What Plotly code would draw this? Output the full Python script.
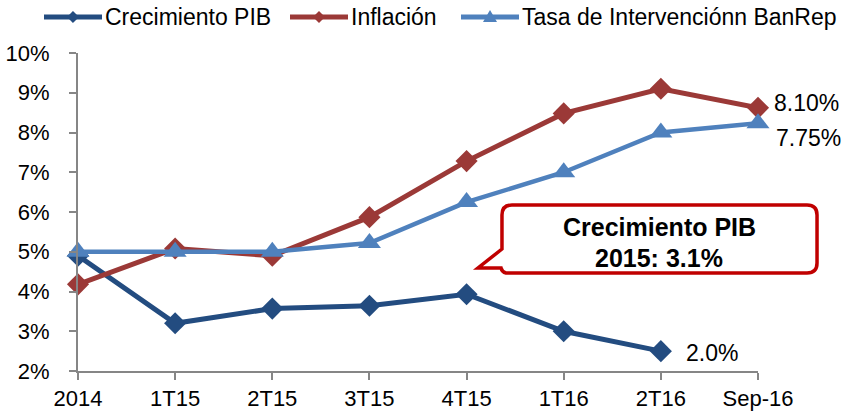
import plotly.graph_objects as go

# periods on the x axis
periodos = ["2014", "1T15", "2T15", "3T15", "4T15", "1T16", "2T16", "Sep-16"]

# series values (%)
crecimiento_pib = [4.9, 3.2, 3.57, 3.64, 3.93, 3.0, 2.5, None]
inflacion = [4.18, 5.08, 4.9, 5.87, 7.28, 8.48, 9.1, 8.62]
tasa_banrep = [5.0, 5.0, 5.0, 5.22, 6.25, 7.0, 8.0, 8.23]

nombres = ["Crecimiento PIB", "Inflación", "Tasa de Intervenciónn BanRep"]

# end-of-series labels and callout text
etiqueta_pib = "2.0%"
etiqueta_inflacion = "8.10%"
etiqueta_tasa = "7.75%"
caja_lineas = ["Crecimiento PIB", "2015: 3.1%"]

azul_osc = "#234C80"
rojo = "#9B3937"
azul_cl = "#4F81BD"
gris = "#868686"
colores = [azul_osc, rojo, azul_cl]
FONT = "Liberation Sans, Arial, sans-serif"

fig = go.Figure()
fig.add_trace(go.Scatter(x=periodos, y=crecimiento_pib, name=nombres[0], mode="lines+markers",
                         line=dict(color=azul_osc, width=5),
                         marker=dict(symbol="diamond", size=17, color=azul_osc),
                         cliponaxis=False))
fig.add_trace(go.Scatter(x=periodos, y=inflacion, name=nombres[1], mode="lines+markers",
                         line=dict(color=rojo, width=5),
                         marker=dict(symbol="diamond", size=17, color=rojo),
                         cliponaxis=False))
fig.add_trace(go.Scatter(x=periodos, y=tasa_banrep, name=nombres[2], mode="lines+markers",
                         line=dict(color=azul_cl, width=4.5),
                         marker=dict(symbol="triangle-up", size=20, color=azul_cl),
                         cliponaxis=False))

# plot area in pixels, used to place the callout and the legend
W, H = 846, 414
L, R, T, B = 78, 758, 53, 371

def fx(x):
    return (x - L) / (R - L)

def fy(y):
    return (B - y) / (B - T)

def px(x, y):
    return f"{fx(x):.4f},{fy(y):.4f}"

caja = [("M", 512, 205), ("L", 807, 205), ("Q", 817, 205, 817, 215), ("L", 817, 263),
        ("Q", 817, 273, 807, 273), ("L", 506, 273), ("Q", 502, 272, 501, 268),
        ("L", 478, 268), ("L", 502, 249), ("L", 502, 215), ("Q", 502, 205, 512, 205)]
path = ""
for seg in caja:
    cmd, pts = seg[0], seg[1:]
    coords = " ".join(px(pts[i], pts[i + 1]) for i in range(0, len(pts), 2))
    path += f"{cmd}{coords} "
path += "Z"

fig.add_shape(type="path", path=path, xref="paper", yref="paper",
              line=dict(color="#C00000", width=3.5), fillcolor="white", layer="above")

for texto, yc in zip(caja_lineas, [227, 258]):
    fig.add_annotation(x=fx(659), y=fy(yc), xref="paper", yref="paper", xanchor="center",
                       yanchor="middle", text=f"<b>{texto}</b>", showarrow=False,
                       font=dict(size=25, color="black", family=FONT))

fig.add_annotation(x=periodos[-1], y=inflacion[-1], text=etiqueta_inflacion, showarrow=False,
                   xanchor="left", xshift=14, yshift=5, font=dict(size=23, color="black"))
fig.add_annotation(x=periodos[-1], y=tasa_banrep[-1], text=etiqueta_tasa, showarrow=False,
                   xanchor="left", xshift=16, yshift=-15, font=dict(size=23, color="black"))
fig.add_annotation(x=periodos[6], y=crecimiento_pib[6], text=etiqueta_pib, showarrow=False,
                   xanchor="left", xshift=23, yshift=-2, font=dict(size=23, color="black"))

# legend drawn by hand: line + small marker + text
leg_x = [44, 290, 461]
leg_y = 17
for x0, nombre, color, simbolo in zip(leg_x, nombres, colores, ["d", "d", "t"]):
    fig.add_shape(type="line", xref="paper", yref="paper", x0=fx(x0), x1=fx(x0 + 58),
                  y0=fy(leg_y), y1=fy(leg_y), line=dict(color=color, width=5))
    cx = x0 + 29
    if simbolo == "d":
        pts = [(cx, leg_y - 6), (cx + 6, leg_y), (cx, leg_y + 6), (cx - 6, leg_y)]
    else:
        pts = [(cx, leg_y - 7), (cx + 7, leg_y + 5), (cx - 7, leg_y + 5)]
    p = "M" + " L".join(px(a, b) for a, b in pts) + " Z"
    fig.add_shape(type="path", path=p, xref="paper", yref="paper",
                  fillcolor=color, line=dict(color=color, width=0))
    fig.add_annotation(x=fx(x0 + 59), y=fy(leg_y), xref="paper", yref="paper",
                       xanchor="left", yanchor="middle", text=nombre, showarrow=False,
                       font=dict(size=23, color="black"))

fig.update_layout(
    width=W, height=H,
    margin=dict(l=L, r=W - R, t=T, b=H - B, autoexpand=False),
    plot_bgcolor="white", paper_bgcolor="white",
    font=dict(family=FONT, size=22, color="black"),
    showlegend=False,
    xaxis=dict(type="category", range=[0, 7], showline=True, linecolor=gris, linewidth=2,
               ticks="outside", ticklen=7, tickcolor=gris, tickwidth=2, showgrid=False,
               zeroline=False),
    yaxis=dict(range=[2, 10], dtick=1, ticksuffix="%", showline=True, linecolor=gris,
               linewidth=2, ticks="outside", ticklen=7, tickcolor=gris, tickwidth=2,
               showgrid=False, zeroline=False, ticklabelstandoff=15),
)

# the page body has a default 8px margin; remove it so the figure fills the window
fig.write_html("out.html", config={"displayModeBar": False},
               post_script="document.body.style.margin='0';")
